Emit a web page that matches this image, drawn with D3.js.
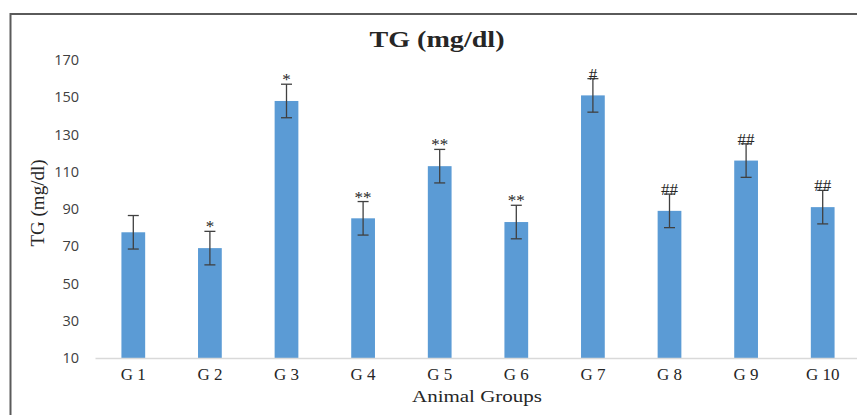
<!DOCTYPE html>
<html lang="en">
<head>
  <meta charset="UTF-8">
  <title>TG (mg/dl)</title>
  <script src="https://d3js.org/d3.v7.min.js"></script>
  <style>
    body { margin: 0; background: #fff; }
    svg { display: block; }
  </style>
</head>
<body>
  <div id="chart"></div>
  <script>
    // data
    var groups = ["G 1", "G 2", "G 3", "G 4", "G 5", "G 6", "G 7", "G 8", "G 9", "G 10"];
    var means = [77.5, 69, 148, 85, 113, 83, 151, 89, 116, 91];
    var errors = [9, 9, 9, 9, 9, 9, 9, 9, 9, 9];
    var marks = ["", "*", "*", "**", "**", "**", "#", "##", "##", "##"];
    var yTicks = [10, 30, 50, 70, 90, 110, 130, 150, 170];

    var width = 857, height = 415;
    var serif = "'Liberation Serif', 'DejaVu Serif', serif";

    var svg = d3.select("#chart")
      .append("svg")
      .attr("width", width)
      .attr("height", height);

    // frame (cropped on the right and bottom)
    svg.append("path")
      .attr("d", "M10.5," + height + "V14H" + width)
      .attr("fill", "none")
      .attr("stroke", "#5a5a5a")
      .attr("stroke-width", 2);

    var x = d3.scaleBand()
      .domain(groups)
      .range([95, 861])
      .paddingInner(0.69)
      .paddingOuter(0.345);

    var y = d3.scaleLinear()
      .domain([10, 170])
      .range([358, 60]);

    // y axis labels (no line)
    var yAxis = svg.append("g")
      .attr("transform", "translate(79,0)")
      .call(d3.axisLeft(y).tickValues(yTicks).tickSize(0).tickPadding(0));
    yAxis.select(".domain").remove();
    yAxis.selectAll("text")
      .style("font-family", "'Open Sans', 'DejaVu Sans', sans-serif")
      .style("font-size", "14.5px")
      .style("fill", "#404040");

    // bars
    svg.selectAll("rect.bar")
      .data(groups)
      .enter()
      .append("rect")
      .attr("class", "bar")
      .attr("x", function (d) { return x(d); })
      .attr("width", x.bandwidth())
      .attr("y", function (d, i) { return y(means[i]); })
      .attr("height", function (d, i) { return y(10) - y(means[i]); })
      .attr("fill", "#5b9bd5");

    // baseline
    var xAxis = svg.append("g")
      .attr("transform", "translate(0," + y(10) + ")")
      .call(d3.axisBottom(x).tickSize(0).tickPadding(10));
    xAxis.select(".domain")
      .attr("stroke", "#d9d9d9")
      .attr("stroke-width", 1.5);
    xAxis.selectAll("text")
      .style("font-family", serif)
      .style("font-size", "17px")
      .style("fill", "#262626");

    // error bars
    var err = svg.append("g")
      .attr("stroke", "#404040")
      .attr("stroke-width", 1.3)
      .attr("fill", "none");
    groups.forEach(function (g, i) {
      var cx = x(g) + x.bandwidth() / 2;
      var top = y(means[i] + errors[i]), bot = y(means[i] - errors[i]);
      err.append("line").attr("x1", cx).attr("x2", cx).attr("y1", top).attr("y2", bot);
      err.append("line").attr("x1", cx - 5.5).attr("x2", cx + 5.5).attr("y1", top).attr("y2", top);
      err.append("line").attr("x1", cx - 5.5).attr("x2", cx + 5.5).attr("y1", bot).attr("y2", bot);
    });

    // significance marks
    svg.selectAll("text.mark")
      .data(groups)
      .enter()
      .append("text")
      .attr("class", "mark")
      .attr("x", function (d) { return x(d) + x.bandwidth() / 2; })
      .attr("y", function (d, i) { return y(means[i] + errors[i]) + 1; })
      .attr("text-anchor", "middle")
      .style("font-family", serif)
      .style("font-size", "17px")
      .style("fill", "#262626")
      .text(function (d, i) { return marks[i]; });

    // titles
    svg.append("text")
      .attr("x", 437)
      .attr("y", 47)
      .attr("text-anchor", "middle")
      .attr("textLength", 135)
      .attr("lengthAdjust", "spacingAndGlyphs")
      .style("font-family", serif)
      .style("font-size", "24px")
      .style("font-weight", "bold")
      .style("fill", "#262626")
      .text("TG (mg/dl)");

    svg.append("text")
      .attr("transform", "translate(44,203) rotate(-90)")
      .attr("text-anchor", "middle")
      .attr("textLength", 87)
      .attr("lengthAdjust", "spacingAndGlyphs")
      .style("font-family", serif)
      .style("font-size", "19px")
      .style("fill", "#262626")
      .text("TG (mg/dl)");

    svg.append("text")
      .attr("x", 477)
      .attr("y", 402)
      .attr("text-anchor", "middle")
      .attr("textLength", 130)
      .attr("lengthAdjust", "spacingAndGlyphs")
      .style("font-family", serif)
      .style("font-size", "17px")
      .style("fill", "#262626")
      .text("Animal Groups");
  </script>
</body>
</html>
